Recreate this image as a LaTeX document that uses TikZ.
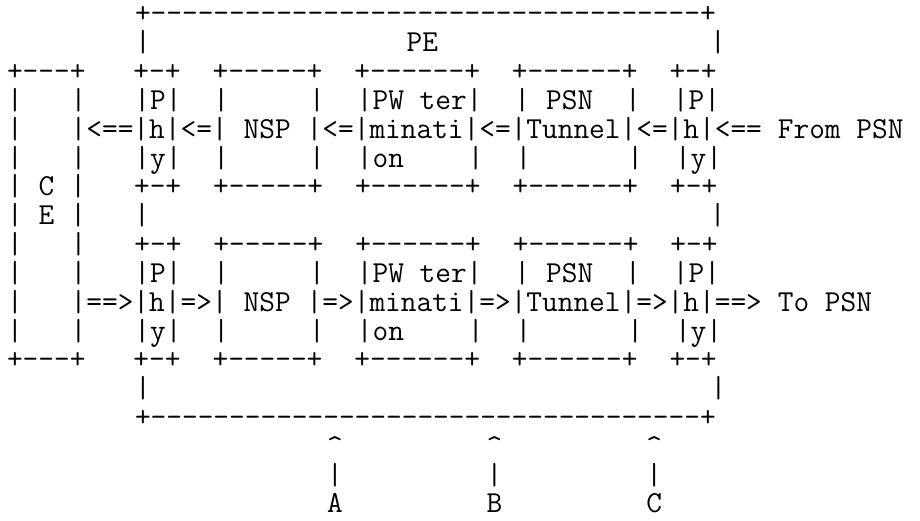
\documentclass[tikz,border=0pt]{standalone}
\usepackage{fontspec}
\usepackage{tikz}
\def\asciifont{\fontsize{30.476}{30}\selectfont\ttfamily}
\def\gap#1{\hspace*{#1\dimexpr16pt\relax}}
\tikzset{asciirow/.style={anchor=base west, inner sep=0pt, outer sep=0pt, font=\asciifont}}

\begin{document}
\begin{tikzpicture}[x=1pt, y=1pt]
	%%%%% START %%%%%
	\useasboundingbox (0, 0) rectangle (920, 520);
	
	% PE frame, top
	\node[asciirow] (petop) at (7, 497.0) {\gap{8}+-----------------------------------+};
	\node[asciirow] (petitle) at (7, 468.18) {\gap{8}|\gap{16}PE\gap{17}|};
	
	% PSN to CE
	\node[asciirow] (inboxtop) at (7, 439.36) {+---+\gap{3}+-+\gap{2}+-----+\gap{2}+------+\gap{2}+------+\gap{2}+-+};
	\node[asciirow] (inp) at (7, 410.54) {|\gap{3}|\gap{3}|P|\gap{2}|\gap{5}|\gap{2}|PW ter|\gap{2}|\gap{1}PSN\gap{2}|\gap{2}|P|};
	\node[asciirow] (inh) at (7, 381.72) {|\gap{3}|<==|h|<=|\gap{1}NSP\gap{1}|<=|minati|<=|Tunnel|<=|h|<==\gap{1}From PSN};
	\node[asciirow] (iny) at (7, 352.90) {|\gap{3}|\gap{3}|y|\gap{2}|\gap{5}|\gap{2}|on\gap{4}|\gap{2}|\gap{6}|\gap{2}|y|};
	\node[asciirow] (inboxbot) at (7, 324.08) {|\gap{1}C\gap{1}|\gap{3}+-+\gap{2}+-----+\gap{2}+------+\gap{2}+------+\gap{2}+-+};
	
	% middle
	\node[asciirow] (cemid) at (7, 295.26) {|\gap{1}E\gap{1}|\gap{3}|\gap{35}|};
	
	% CE to PSN
	\node[asciirow] (outboxtop) at (7, 266.44) {|\gap{3}|\gap{3}+-+\gap{2}+-----+\gap{2}+------+\gap{2}+------+\gap{2}+-+};
	\node[asciirow] (outp) at (7, 237.62) {|\gap{3}|\gap{3}|P|\gap{2}|\gap{5}|\gap{2}|PW ter|\gap{2}|\gap{1}PSN\gap{2}|\gap{2}|P|};
	\node[asciirow] (outh) at (7, 208.80) {|\gap{3}|==>|h|=>|\gap{1}NSP\gap{1}|=>|minati|=>|Tunnel|=>|h|==>\gap{1}To PSN};
	\node[asciirow] (outy) at (7, 179.98) {|\gap{3}|\gap{3}|y|\gap{2}|\gap{5}|\gap{2}|on\gap{4}|\gap{2}|\gap{6}|\gap{2}|y|};
	\node[asciirow] (outboxbot) at (7, 151.16) {+---+\gap{3}+-+\gap{2}+-----+\gap{2}+------+\gap{2}+------+\gap{2}+-+};
	
	% PE frame, bottom
	\node[asciirow] (peside) at (7, 122.34) {\gap{8}|\gap{35}|};
	\node[asciirow] (pebot) at (7, 93.52) {\gap{8}+-----------------------------------+};
	
	% reference points
	\node[asciirow] (carets) at (7, 64.70) {\gap{20}\textasciicircum\gap{9}\textasciicircum\gap{9}\textasciicircum};
	\node[asciirow] (stems) at (7, 35.88) {\gap{20}|\gap{9}|\gap{9}|};
	\node[asciirow] (points) at (7, 7.06) {\gap{20}A\gap{9}B\gap{9}C};
	
	%%%%% END %%%%%
\end{tikzpicture}
\end{document}
